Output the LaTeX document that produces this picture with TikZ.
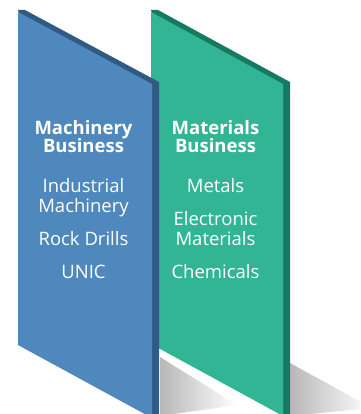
\documentclass[tikz,border=0pt]{standalone}
\usepackage{fontspec}
\setmainfont{Open Sans}
\definecolor{bluefront}{HTML}{4F88BC}
\definecolor{blueside}{HTML}{2E5A84}
\definecolor{greenfront}{HTML}{31B594}
\definecolor{greenside}{HTML}{167A62}
\tikzset{
  head/.style={text=white, font=\fontsize{18.5}{18}\selectfont\bfseries, anchor=base, inner sep=0pt},
  item/.style={text=white, font=\fontsize{18.5}{20}\selectfont, anchor=base, inner sep=0pt},
  shadowfill/.style={left color=black!28, right color=white, draw=none}
}
\begin{document}
\begin{tikzpicture}[x=1pt,y=-1pt]
\useasboundingbox (0,0) rectangle (360,414);
\clip (0,0) rectangle (360,414);
% shadows
\shade[shadowfill] (160,357) -- (237,405) -- (160,416) -- cycle;
\shade[shadowfill] (290,363) -- (372,408) -- (290,416) -- cycle;
% green panel
\fill[greenside] (151,10) -- (158,10) -- (290,82) -- (290,416) -- (283,416) -- cycle;
\fill[greenfront] (151,12) -- (283,84) -- (283,416) -- (151,344) -- cycle;
% blue panel
\fill[blueside] (18,10) -- (25,10) -- (159,82) -- (159,416) -- (152,416) -- cycle;
\fill[bluefront] (18,12) -- (152,84) -- (152,418) -- (18,345) -- cycle;
% texts blue
\node[head] (m1) at (83.5,135) {Machinery};
\node[head] (m2) at (83.5,153) {Business};
\node[item] (m3) at (83.5,192) {Industrial};
\node[item] (m4) at (83.5,212) {Machinery};
\node[item] (m5) at (83.5,245) {Rock Drills};
\node[item] (m6) at (83.5,278) {UNIC};
% texts green
\node[head] (g1) at (215.5,135) {Materials};
\node[head] (g2) at (215.5,153) {Business};
\node[item] (g3) at (215.5,192) {Metals};
\node[item] (g4) at (215.5,225) {Electronic};
\node[item] (g5) at (215.5,245) {Materials};
\node[item] (g6) at (215.5,278) {Chemicals};
\end{tikzpicture}
\end{document}
